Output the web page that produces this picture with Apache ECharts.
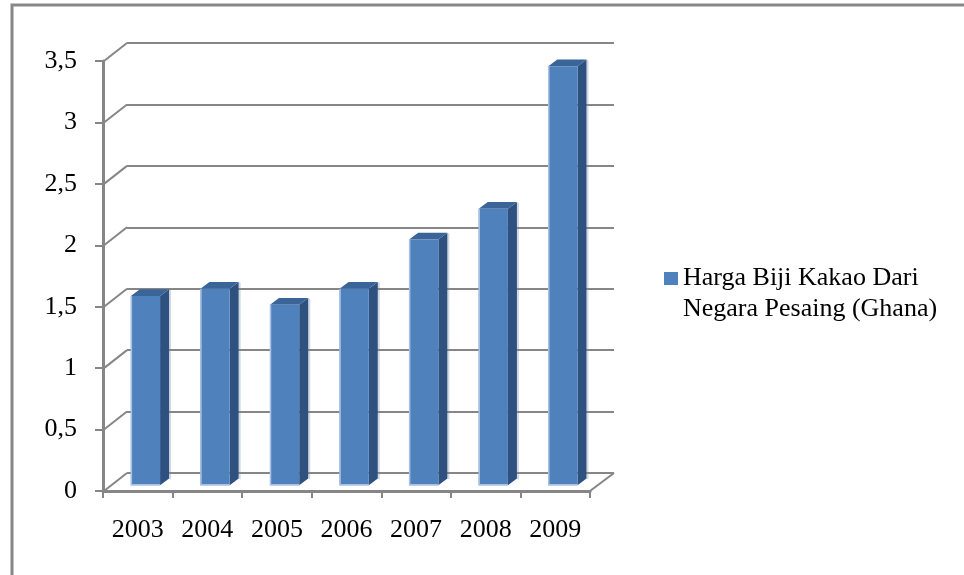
<!DOCTYPE html>
<html>
<head>
<meta charset="utf-8">
<script src="https://cdn.jsdelivr.net/npm/echarts@6/dist/echarts.min.js"></script>
<style>
  html, body { margin: 0; padding: 0; background: #ffffff; }
  #chart { width: 964px; height: 575px; }
</style>
</head>
<body>
<div id="chart"></div>
<script>
// Cocoa bean price data (Ghana), 2003-2009
const years = ['2003', '2004', '2005', '2006', '2007', '2008', '2009'];
const prices = [1.54, 1.60, 1.47, 1.60, 2.00, 2.25, 3.41];
const yTickValues = [0, 0.5, 1, 1.5, 2, 2.5, 3, 3.5];
const seriesName = 'Harga Biji Kakao Dari\nNegara Pesaing (Ghana)';

// 3D projection: offset of the back wall relative to the front plane
const DEPTH_X = 24;
const DEPTH_Y = -18;
const FACE_SHIFT = 0.32;   // fraction of depth where bar front faces sit
const BAR_DEPTH = 0.375;   // fraction of depth a bar occupies
const BAR_WIDTH_RATIO = 0.42;

const GRID_LEFT = 103, GRID_TOP = 61, GRID_W = 487, GRID_H = 430;
const AXIS_GRAY = '#868686';
const FONT = '"Liberation Serif", "Times New Roman", serif';

const chart = echarts.init(document.getElementById('chart'), null, { renderer: 'canvas' });

function fmt(v) { return String(v).replace('.', ','); }

const option = {
  backgroundColor: '#ffffff',
  animation: false,
  grid: [
    { left: GRID_LEFT, top: GRID_TOP, width: GRID_W, height: GRID_H },
    { left: GRID_LEFT + DEPTH_X, top: GRID_TOP + DEPTH_Y, width: GRID_W, height: GRID_H }
  ],
  xAxis: [
    {
      gridIndex: 0, type: 'category', data: years,
      axisLine: { lineStyle: { color: AXIS_GRAY, width: 3 } },
      axisTick: { show: true, length: 7, lineStyle: { color: AXIS_GRAY, width: 2 } },
      axisLabel: { color: '#000', fontFamily: FONT, fontSize: 26, margin: 26 },
      splitLine: { show: false }
    },
    { gridIndex: 1, type: 'category', data: years, show: false }
  ],
  yAxis: [
    {
      gridIndex: 0, type: 'value', min: 0, max: 3.5, interval: 0.5,
      axisLine: { show: true, lineStyle: { color: AXIS_GRAY, width: 3 } },
      axisTick: { show: true, length: 8, lineStyle: { color: AXIS_GRAY, width: 2 } },
      axisLabel: { color: '#000', fontFamily: FONT, fontSize: 26, margin: 26, formatter: fmt },
      splitLine: { show: false }
    },
    {
      gridIndex: 1, type: 'value', min: 0, max: 3.5, interval: 0.5,
      axisLine: { show: false }, axisTick: { show: false }, axisLabel: { show: false },
      splitLine: { show: true, lineStyle: { color: AXIS_GRAY, width: 2 } }
    }
  ],
  legend: {
    orient: 'vertical',
    left: 664, top: 232,
    padding: 0,
    icon: 'rect',
    itemWidth: 14, itemHeight: 13,
    data: [seriesName],
    // a blank leading line keeps the marker level with the first text line
    formatter: function (name) { return ' \n' + name; },
    textStyle: { color: '#000', fontFamily: FONT, fontSize: 26, lineHeight: 31 }
  },
  graphic: [
    {
      type: 'rect', silent: true, z: -1,
      shape: { x: 12, y: 5, width: 1200, height: 1200 },
      style: { fill: 'none', stroke: '#878787', lineWidth: 3 }
    }
  ],
  series: [
    {
      // diagonal connectors from the front axis to the back wall gridlines
      type: 'custom', name: 'depth', xAxisIndex: 0, yAxisIndex: 0,
      silent: true, z: 1,
      data: yTickValues.map(v => [0, v]),
      encode: { x: 0, y: 1 },
      renderItem: function (params, api) {
        const cs = params.coordSys;
        const p = api.coord([0, api.value(1)]);
        const lineStyle = { stroke: AXIS_GRAY, lineWidth: 2 };
        const children = [{
          type: 'line',
          shape: { x1: cs.x + 1, y1: p[1], x2: cs.x + DEPTH_X, y2: p[1] + DEPTH_Y },
          style: lineStyle
        }];
        if (api.value(1) === 0) {
          children.push({
            type: 'line',
            shape: { x1: cs.x + cs.width, y1: p[1], x2: cs.x + cs.width + DEPTH_X, y2: p[1] + DEPTH_Y },
            style: lineStyle
          });
        }
        return { type: 'group', children: children };
      }
    },
    {
      type: 'custom', name: seriesName, xAxisIndex: 0, yAxisIndex: 0, z: 3,
      itemStyle: { color: '#4F81BD' },
      data: prices.map((v, i) => [i, v]),
      encode: { x: 0, y: 1 },
      renderItem: function (params, api) {
        const top = api.coord([api.value(0), api.value(1)]);
        const base = api.coord([api.value(0), 0]);
        const band = api.size([1, 0])[0];
        const w = band * BAR_WIDTH_RATIO;
        const ox = DEPTH_X * FACE_SHIFT, oy = DEPTH_Y * FACE_SHIFT;
        const dx = DEPTH_X * BAR_DEPTH, dy = DEPTH_Y * BAR_DEPTH;
        const x0 = top[0] + ox - w / 2;
        const x1 = x0 + w;
        const yt = top[1] + oy;
        const yb = base[1] + oy;
        return {
          type: 'group',
          children: [
            { // soft shadow right of the bar
              type: 'polygon',
              shape: { points: [[x1 + dx, yt + dy], [x1 + dx + 2, yt + dy + 1], [x1 + dx + 2, yb + dy + 1], [x1 + dx, yb + dy]] },
              style: { fill: 'rgba(120,140,170,0.35)' }
            },
            { // side face
              type: 'polygon',
              shape: { points: [[x1, yt], [x1 + dx, yt + dy], [x1 + dx, yb + dy], [x1, yb]] },
              style: { fill: '#2F5180' }
            },
            { // top face
              type: 'polygon',
              shape: { points: [[x0, yt], [x0 + dx, yt + dy], [x1 + dx, yt + dy], [x1, yt]] },
              style: { fill: '#3B6498' }
            },
            { // front face
              type: 'rect',
              shape: { x: x0, y: yt, width: w, height: yb - yt },
              style: { fill: '#4F81BD' }
            },
            { // light edge along left and bottom of the front face
              type: 'polyline',
              shape: { points: [[x0 + 0.5, yt], [x0 + 0.5, yb - 0.5], [x1, yb - 0.5]] },
              style: { stroke: '#A9C1E2', lineWidth: 1.5, fill: 'none' }
            }
          ]
        };
      }
    }
  ]
};

chart.setOption(option);
</script>
</body>
</html>
